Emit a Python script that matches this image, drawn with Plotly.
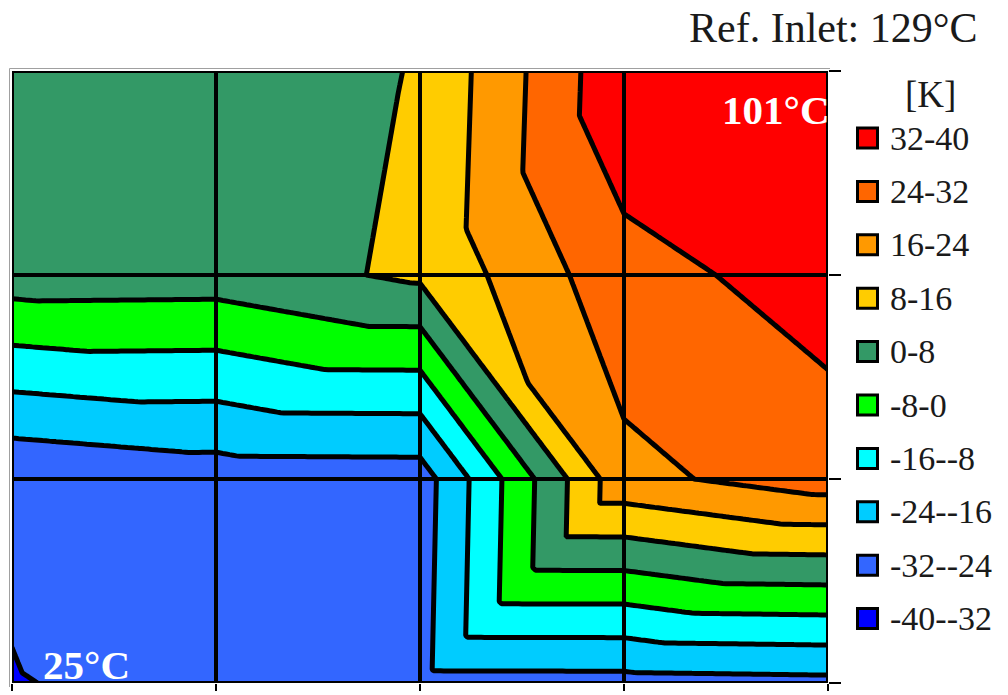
import numpy as np
import plotly.graph_objects as go

# Temperature difference [K] on the measurement grid, one list per row (bottom row first)
dt_row0 = [-32.2, -30.6, -26.9, -26.8, -26.1]
dt_row1 = [-31.05, -28.2, -28.0, 21.8, 28.2]
dt_row2 = [4.1, 3.8, 9.5, 29.3, 35.3]
dt_row3 = [3.0, 2.6, 8.5, 38.3, 38.5]

# Contour bands (low to high)
band_edges = [-40, -32, -24, -16, -8, 0, 8, 16, 24, 32, 40]
band_labels = ["-40--32", "-32--24", "-24--16", "-16--8", "-8-0",
               "0-8", "8-16", "16-24", "24-32", "32-40"]
band_colors = ["#0000FF", "#3366FF", "#00CCFF", "#00FFFF", "#00FF00",
               "#339966", "#FFCC00", "#FF9900", "#FF6600", "#FF0000"]

title_text = "Ref. Inlet: 129°C"
unit_text = "[K]"
hot_text = "101°C"
cold_text = "25°C"

# ---------------------------------------------------------------------------
# Surface: every grid cell is split into two triangles and shaded linearly,
# the way spreadsheet contour charts draw it.
grid = np.array([dt_row0, dt_row1, dt_row2, dt_row3], dtype=float)
cell_split = [["/", "\\", "/", "/"],
              ["\\", "/", "\\", "\\"],
              ["/", "/", "/", "\\"]]
n_cx = grid.shape[1] - 1
n_cy = grid.shape[0] - 1
SUB = 60
xs = np.linspace(0, n_cx, n_cx * SUB + 1)
ys = np.linspace(0, n_cy, n_cy * SUB + 1)
X, Y = np.meshgrid(xs, ys)
ci = np.clip(np.floor(X + 1e-9).astype(int), 0, n_cx - 1)
ri = np.clip(np.floor(Y + 1e-9).astype(int), 0, n_cy - 1)
u = X - ci
v = Y - ri
z00 = grid[ri, ci]
z10 = grid[ri, ci + 1]
z01 = grid[ri + 1, ci]
z11 = grid[ri + 1, ci + 1]
slash = np.array([[s == "/" for s in row] for row in cell_split])[ri, ci]
z_slash = np.where(u >= v,
                   z00 + u * (z10 - z00) + v * (z11 - z10),
                   z00 + v * (z01 - z00) + u * (z11 - z01))
z_back = np.where(u + v <= 1,
                  z00 + u * (z10 - z00) + v * (z01 - z00),
                  z11 + (1 - u) * (z01 - z11) + (1 - v) * (z10 - z11))
Z = np.where(slash, z_slash, z_back)

# Stepped colour scale: one flat colour per band (plus the out-of-range ends)
n_lev = len(band_edges)
steps = [(k + 0.5) / n_lev for k in range(n_lev)]
scale = [[0.0, band_colors[0]], [steps[0], band_colors[0]]]
for k, col in enumerate(band_colors):
    scale += [[steps[k], col], [steps[k + 1], col]]
scale += [[steps[-1], band_colors[-1]], [1.0, band_colors[-1]]]

fig = go.Figure()
fig.add_trace(go.Contour(
    x=xs, y=ys, z=Z,
    contours=dict(start=band_edges[0], end=band_edges[-1],
                  size=band_edges[1] - band_edges[0],
                  coloring="fill", showlines=True),
    colorscale=scale, showscale=False,
    line=dict(color="black", width=5, smoothing=0),
    hoverinfo="skip",
))

# ---------------------------------------------------------------------------
W, H = 1008, 695
L, R, T, B = 12, 828, 71, 683


def px(xpix):
    return (xpix - L) / (R - L)


def py(ypix):
    return (B - ypix) / (B - T)


serif = "Liberation Serif, Times New Roman, serif"

shapes = []
for xv in range(1, n_cx):
    shapes.append(dict(type="line", xref="x", yref="y", x0=xv, x1=xv, y0=0, y1=n_cy,
                       line=dict(color="black", width=4), layer="above"))
for yv in range(1, n_cy):
    shapes.append(dict(type="line", xref="x", yref="y", x0=0, x1=n_cx, y0=yv, y1=yv,
                       line=dict(color="black", width=4), layer="above"))
shapes.append(dict(type="rect", xref="x", yref="y", x0=0, x1=n_cx, y0=0, y1=n_cy,
                   line=dict(color="black", width=4), fillcolor="rgba(0,0,0,0)", layer="above"))
# thin grey frame of the plot area
shapes.append(dict(type="line", xref="paper", yref="paper", x0=px(9.5), x1=px(830),
                   y0=py(68.5), y1=py(68.5), line=dict(color="#A0A0A0", width=1)))
shapes.append(dict(type="line", xref="paper", yref="paper", x0=px(9.5), x1=px(9.5),
                   y0=py(68.5), y1=py(687), line=dict(color="#A0A0A0", width=1)))

annotations = [
    dict(text=title_text, xref="paper", yref="paper", x=px(980), y=py(28),
         xanchor="right", yanchor="middle", showarrow=False,
         font=dict(family=serif, size=42, color="#1a1a1a")),
    dict(text=unit_text, xref="paper", yref="paper", x=px(930), y=py(95),
         xanchor="center", yanchor="middle", showarrow=False,
         font=dict(family=serif, size=37, color="#1a1a1a")),
    dict(text="<b>" + hot_text + "</b>", xref="paper", yref="paper", x=px(832), y=py(110),
         xanchor="right", yanchor="middle", showarrow=False,
         font=dict(family=serif, size=41, color="white")),
    dict(text="<b>" + cold_text + "</b>", xref="paper", yref="paper", x=px(41), y=py(665),
         xanchor="left", yanchor="middle", showarrow=False,
         font=dict(family=serif, size=41, color="white")),
]

# Legend: highest band at the top
row0_y, row_gap = 138, 53.4
for k, (lab, col) in enumerate(zip(band_labels[::-1], band_colors[::-1])):
    yc = row0_y + k * row_gap
    shapes.append(dict(type="rect", xref="paper", yref="paper",
                       x0=px(857.5), x1=px(877.5), y0=py(yc + 10), y1=py(yc - 10),
                       fillcolor=col, line=dict(color="black", width=3)))
    annotations.append(dict(text=lab, xref="paper", yref="paper", x=px(888), y=py(yc),
                            xanchor="left", yanchor="middle", showarrow=False,
                            font=dict(family=serif, size=34, color="#1a1a1a")))

fig.update_layout(
    width=W, height=H, autosize=False,
    margin=dict(l=L, r=W - R, t=T, b=H - B, pad=0),
    paper_bgcolor="white", plot_bgcolor="white",
    showlegend=False,
    xaxis=dict(range=[0, n_cx], showgrid=False, zeroline=False, showline=False,
               tickvals=list(range(n_cx + 1)), ticks="outside", ticklen=7, tickwidth=1.5,
               tickcolor="black", showticklabels=False, fixedrange=True, automargin=False),
    yaxis=dict(range=[0, n_cy], side="right", showgrid=False, zeroline=False, showline=False,
               tickvals=list(range(n_cy + 1)), ticks="outside", ticklen=12, tickwidth=1.5,
               tickcolor="black", showticklabels=False, fixedrange=True, automargin=False),
    shapes=shapes, annotations=annotations,
)

fig.write_html("out.html")
